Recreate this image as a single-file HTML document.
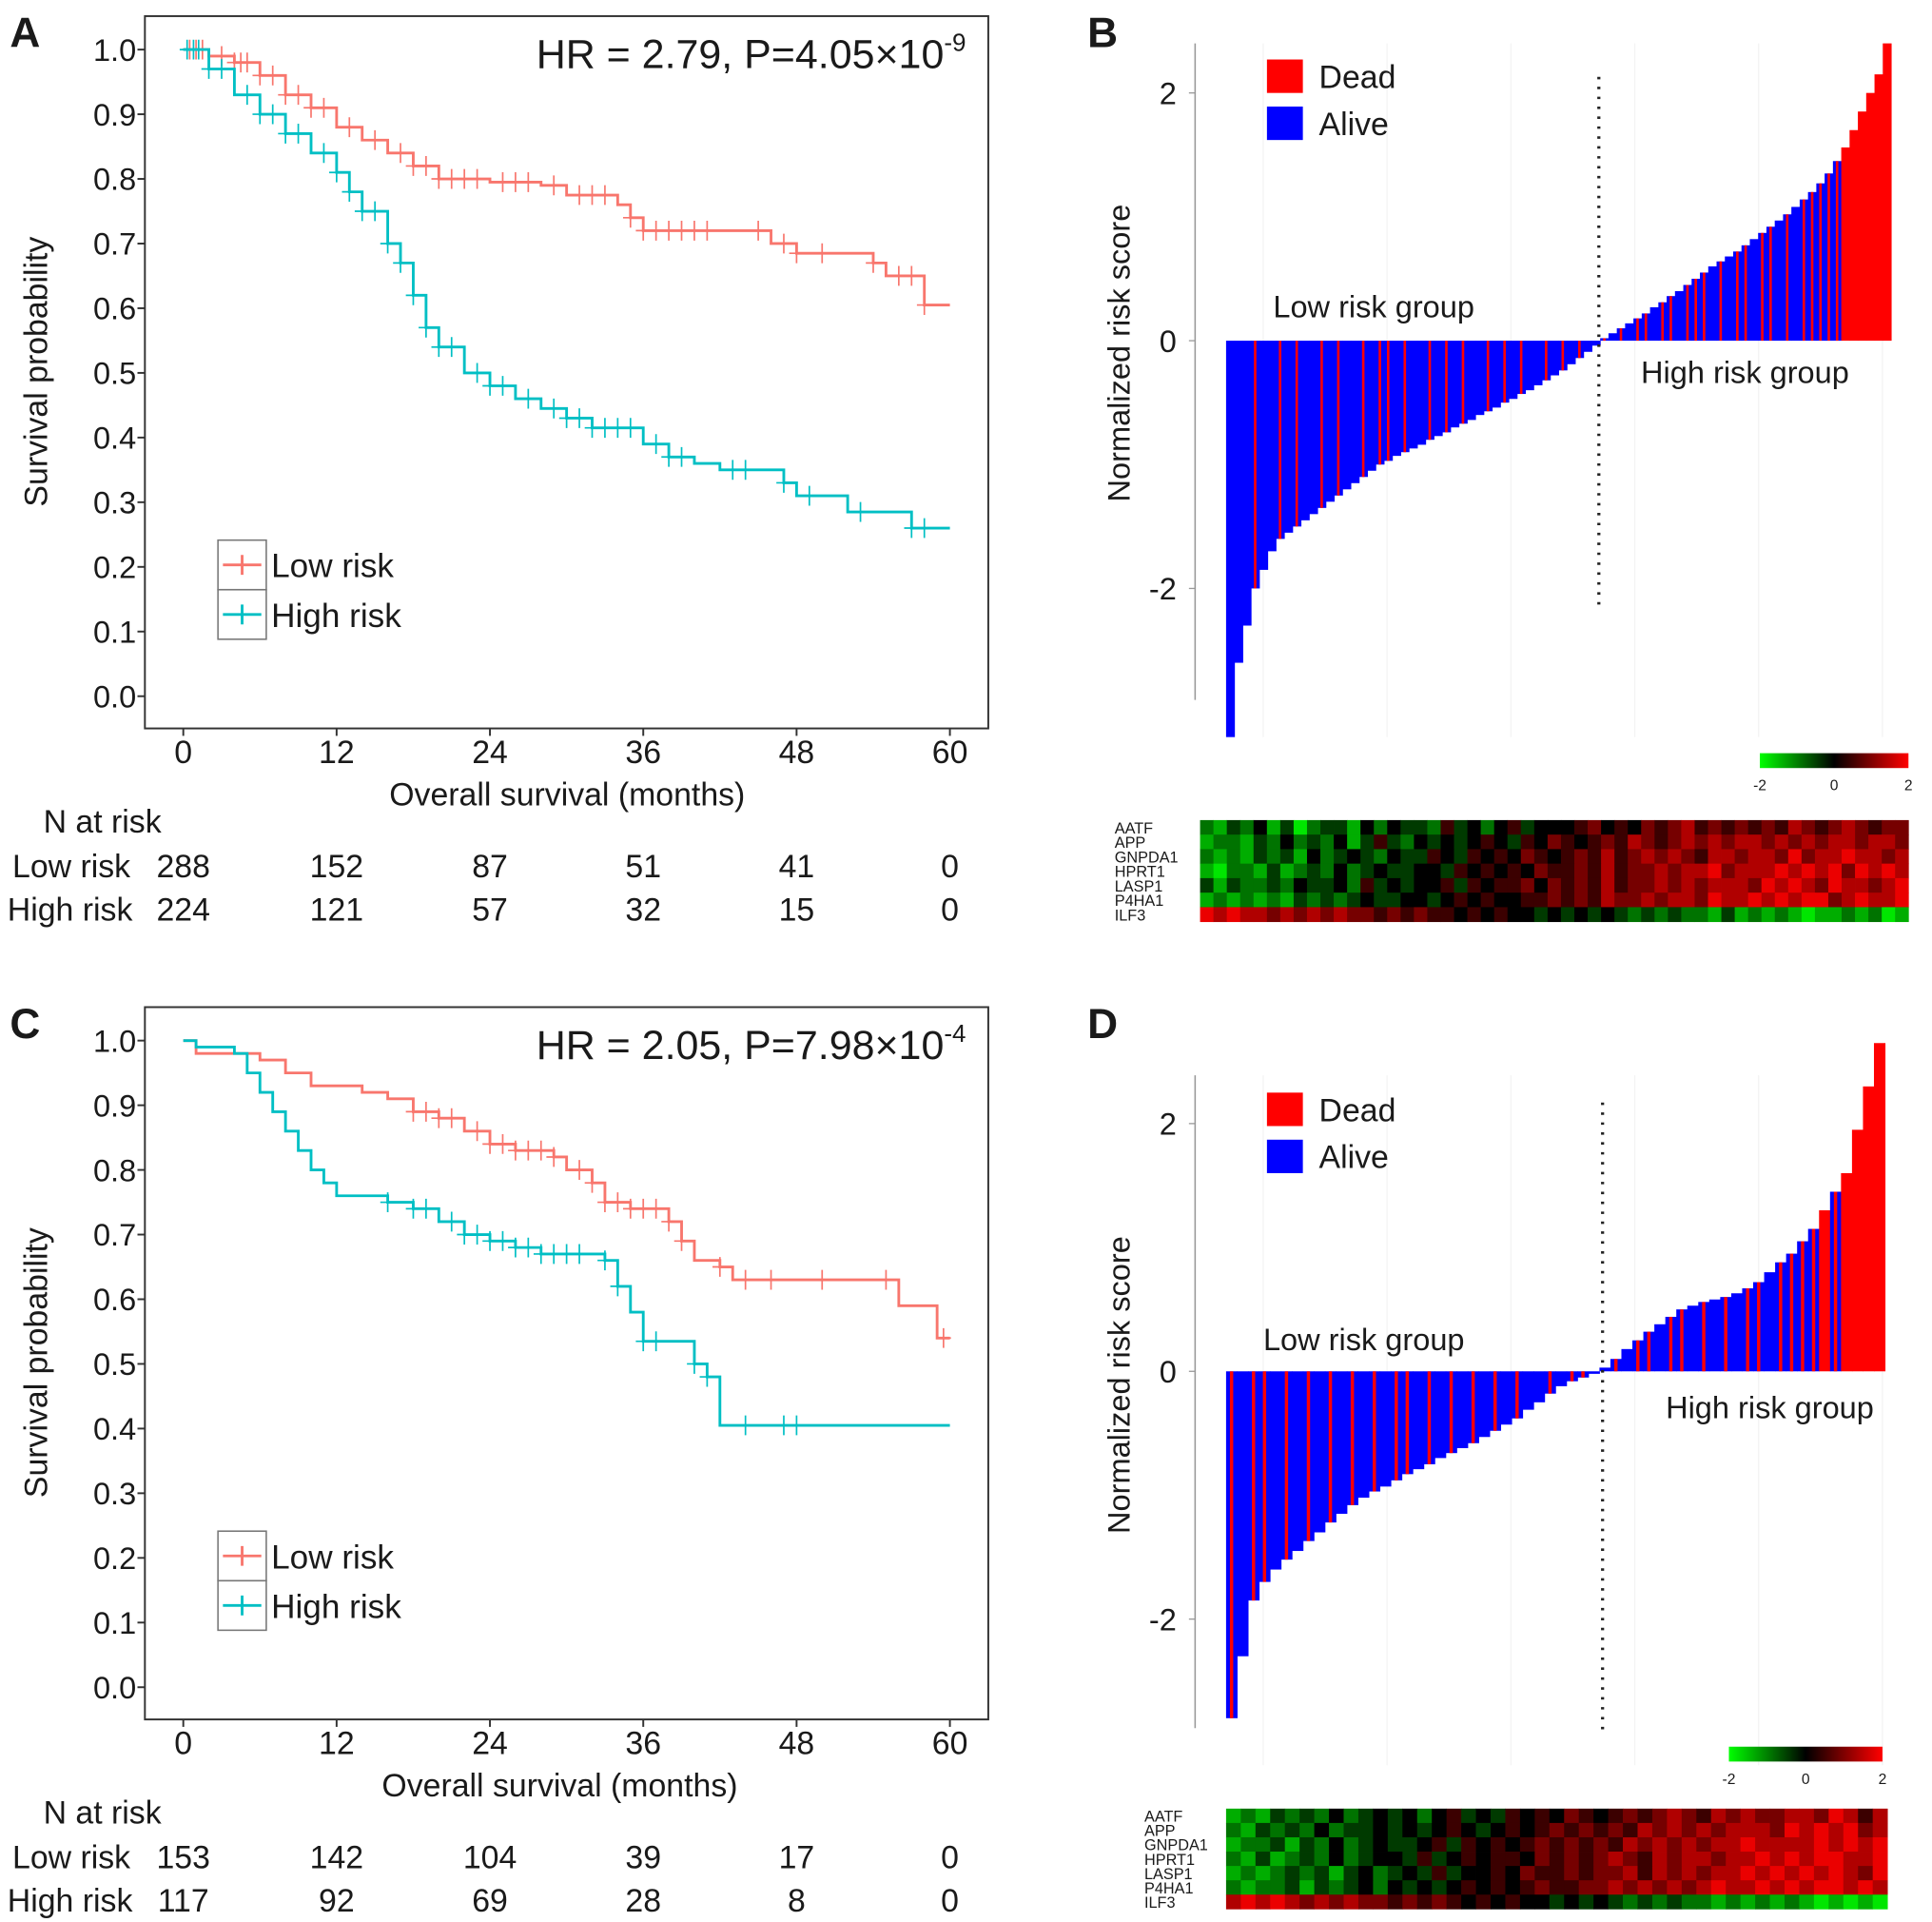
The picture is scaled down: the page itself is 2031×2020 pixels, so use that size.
<!DOCTYPE html>
<html><head><meta charset="utf-8"><style>
html,body{margin:0;padding:0;background:#fff}
svg{display:block}
text{font-family:"Liberation Sans",Arial,sans-serif;fill:#1a1a1a}
</style></head><body>
<svg id="fig" xmlns="http://www.w3.org/2000/svg" width="2031" height="2020" viewBox="0 0 1560 1551.5">
<rect width="1560" height="1552" fill="#fff"/>
<text x="8" y="38" font-size="34" font-weight="bold">A</text>
<text x="878" y="38" font-size="34" font-weight="bold">B</text>
<text x="8" y="838" font-size="34" font-weight="bold">C</text>
<text x="878" y="838" font-size="34" font-weight="bold">D</text>
</svg>
<script>
// ---------- KM data ----------
const kmTicksX = [0,12,24,36,48,60];
const kmTicksY = [0,0.1,0.2,0.3,0.4,0.5,0.6,0.7,0.8,0.9,1.0];
const aLowT = [0,2,4,6,8,10,12,14,16,18,20,24,28,30,34,35,36,46,48,54,55,58,60];
const aLowS = [1,0.99,0.98,0.96,0.93,0.91,0.88,0.86,0.84,0.82,0.80,0.795,0.79,0.775,0.76,0.74,0.72,0.70,0.685,0.67,0.65,0.605,0.605];
const aHighT = [0,2,4,6,8,10,12,13,14,16,17,18,19,20,22,24,26,28,30,32,36,38,40,42,47,48,52,57,60];
const aHighS = [1,0.97,0.93,0.90,0.87,0.84,0.81,0.78,0.75,0.70,0.67,0.62,0.57,0.54,0.50,0.48,0.46,0.445,0.43,0.415,0.39,0.37,0.36,0.35,0.33,0.31,0.285,0.26,0.26];
const aLowCens = [0.5,1,1.5,3,4,4.5,5,6,7,8,9,10,11,13,15,17,18,19,20,21,22,23,25,26,27,29,31,32,33,35,36,37,38,39,40,41,45,47,48,50,54,56,57,58];
const aHighCens = [0.3,0.8,1.2,2,3,5,6,7,8,9,11,12,13,14,15,16,17,18,19,20,21,23,24,25,27,29,30,31,32,33,34,35,37,38,39,43,44,47,49,53,57,58];
const cLowT = [0,1,6,8,10,14,16,18,20,22,24,26,29,30,32,33,35,38,39,40,42,43,56,59,60];
const cLowS = [1,0.98,0.97,0.95,0.93,0.92,0.91,0.89,0.88,0.86,0.84,0.83,0.82,0.80,0.78,0.75,0.74,0.72,0.69,0.66,0.65,0.63,0.59,0.54,0.54];
const cHighT = [0,1,4,5,6,7,8,9,10,11,12,16,18,20,22,24,26,28,33,34,35,36,40,41,42,60];
const cHighS = [1,0.99,0.98,0.95,0.92,0.89,0.86,0.83,0.80,0.78,0.76,0.75,0.74,0.72,0.70,0.69,0.68,0.67,0.66,0.62,0.58,0.535,0.50,0.48,0.405,0.405];
const cLowCens = [18,19,20,21,23,24,25,26,27,28,29,31,32,33,34,35,36,37,38,39,42,44,46,50,55,59.5];
const cHighCens = [16,18,19,21,22,23,24,25,26,27,28,29,30,31,33,34,36,37,40,41,44,47,48];
const aRiskLow = ["288","152","87","51","41","0"];
const aRiskHigh = ["224","121","57","32","15","0"];
const cRiskLow = ["153","142","104","39","17","0"];
const cRiskHigh = ["117","92","69","28","8","0"];

// ---------- Waterfall data ----------
// status: 0 = alive, 1 = group containing a death (thin red line), 2 = dead (solid red)
const bScores = [-3.2,-2.6,-2.3,-2.0,-1.85,-1.7,-1.6,-1.55,-1.5,-1.45,-1.4,-1.35,-1.3,-1.25,-1.2,-1.15,-1.1,-1.05,-1.0,-0.97,-0.93,-0.9,-0.87,-0.84,-0.8,-0.77,-0.74,-0.7,-0.67,-0.64,-0.6,-0.57,-0.54,-0.5,-0.47,-0.43,-0.4,-0.36,-0.32,-0.28,-0.24,-0.19,-0.14,-0.09,-0.04,0.02,0.06,0.1,0.14,0.18,0.22,0.27,0.31,0.36,0.4,0.45,0.5,0.55,0.6,0.64,0.68,0.72,0.77,0.82,0.87,0.92,0.97,1.02,1.08,1.14,1.2,1.27,1.35,1.45,1.56,1.7,1.85,2.0,2.15,2.4];
const bStatus = "00010010100101001011010010101001010100101010010101101101110101101101011111222222222";
const dScores = [-2.8,-2.3,-1.85,-1.7,-1.6,-1.52,-1.45,-1.37,-1.3,-1.22,-1.15,-1.08,-1.02,-0.97,-0.93,-0.88,-0.83,-0.79,-0.75,-0.7,-0.66,-0.62,-0.58,-0.53,-0.48,-0.43,-0.38,-0.31,-0.25,-0.18,-0.12,-0.08,-0.05,-0.02,0.03,0.1,0.18,0.25,0.32,0.38,0.44,0.5,0.53,0.56,0.58,0.6,0.63,0.67,0.72,0.8,0.88,0.95,1.05,1.15,1.3,1.45,1.6,1.95,2.3,2.65];
const dStatus = "101101010101010110101010101001011001011011010101101111212222";
const genes = ["AATF","APP","GNPDA1","HPRT1","LASP1","P4HA1","ILF3"];
const bHeat = [
"21324130233142433253424534445645465675656565765676566",
"12213242324135324343454354654565765676767767676776776",
"21213231423432433543545465456575676765776776867787767",
"10221312324234334435454546556575667677867778787868787",
"31322324334253434453545564656575667676777687876877678",
"12121213232343344345454455656576676776877878788678778",
"87877676767665656554545443434343232322131212101121201"];
const dHeat = [
"121323242343424534354546545656765767667768757",
"213232423343434543454565656576767677768787867",
"122313242343345354545656565767676778777787878",
"213123242344353454554656567657677677878788778",
"121232313423435344546556566757676778787878768",
"212231323424343454545655667676767877878788787",
"787876767665656545454434343232322121212101010"];

const svg = document.getElementById('fig');
const NS = 'http://www.w3.org/2000/svg';
function el(tag, attrs, parent){const e=document.createElementNS(NS,tag);for(const k in attrs)e.setAttribute(k,attrs[k]);(parent||svg).appendChild(e);return e;}
function txt(x,y,s,size,anchor,parent){const t=el('text',{x:x,y:y,'font-size':size,'text-anchor':anchor||'start'},parent);t.textContent=s;return t;}

function km(cfg){
  const g=el('g',{});
  
  
  const xs=t=>cfg.x0+(cfg.x60-cfg.x0)*t/60;
  const ys=s=>cfg.y0+(cfg.y1-cfg.y0)*s;
  const box=el('rect',{x:117,y:cfg.top,width:681,height:cfg.bot-cfg.top,fill:'none',stroke:'#333','stroke-width':1.5},g);
  
  
  kmTicksY.forEach(v=>{
    el('line',{x1:111,x2:117,y1:ys(v),y2:ys(v),stroke:'#333','stroke-width':1.5},g);
    const t=txt(110,ys(v)+9,v.toFixed(1),25,'end',g);
    
    
  });
  kmTicksX.forEach(v=>{
    el('line',{x1:xs(v),x2:xs(v),y1:cfg.bot,y2:cfg.bot+6,stroke:'#333','stroke-width':1.5},g);
    const t=txt(xs(v),cfg.bot+28,String(v),26,'middle',g);
    
    
  });
  const yt=txt(0,0,'Survival probability',26,'middle',g);
  yt.setAttribute('transform','translate(38,'+(cfg.top+287)+') rotate(-90)');
  
  
  const xt=txt(cfg.xTitle,cfg.bot+62,'Overall survival (months)',26,'middle',g);
  
  
  const hr=el('text',{x:780,y:cfg.top+42,'font-size':33,'text-anchor':'end'},g);
  
  
  hr.appendChild(document.createTextNode(cfg.hr));
  const sup=el('tspan',{'font-size':20,dy:-14},hr);sup.textContent=cfg.exp;
  function curve(T,S,C,color,name){
    let d='M'+xs(T[0])+','+ys(S[0]);
    for(let i=1;i<T.length;i++){d+=' H'+xs(T[i])+' V'+ys(S[i]);}
    const p=el('path',{d:d,fill:'none',stroke:color,'stroke-width':2.2},g);
    
    
    C.forEach(c=>{
      let s=S[0];for(let i=0;i<T.length;i++){if(T[i]<=c)s=S[i];}
      const m=el('path',{d:'M'+(xs(c)-6)+','+ys(s)+' h12 M'+xs(c)+','+(ys(s)-8)+' v16',stroke:color,'stroke-width':1.3,fill:'none'},g);
      
      
    });
  }
  curve(cfg.lowT,cfg.lowS,cfg.lowC,'#F8766D','low-risk-curve');
  curve(cfg.highT,cfg.highS,cfg.highC,'#00BFC4','high-risk-curve');
  const lg=el('g',{},g);
  
  
  const ly=cfg.top+423;
  [['Low risk','#F8766D'],['High risk','#00BFC4']].forEach((e,i)=>{
    const y=ly+i*40;
    el('rect',{x:176,y:y,width:39,height:40,fill:'none',stroke:'#777','stroke-width':1.2},lg);
    el('path',{d:'M180,'+(y+20)+' h31 M195.5,'+(y+12)+' v16',stroke:e[1],'stroke-width':2.2},lg);
    const t=txt(219,y+30,e[0],27,'start',lg);
    
    
  });
  const rt=el('g',{},g);
  
  
  txt(35,cfg.bot+84,'N at risk',26,'start',rt);
  txt(10,cfg.bot+120,'Low risk',26,'start',rt);
  txt(6,cfg.bot+155,'High risk',26,'start',rt);
  cfg.riskLow.forEach((v,i)=>txt(xs(kmTicksX[i]),cfg.bot+120,v,26,'middle',rt));
  cfg.riskHigh.forEach((v,i)=>txt(xs(kmTicksX[i]),cfg.bot+155,v,26,'middle',rt));
}
km({name:'km-plot-a',top:13,bot:588,x0:148,x60:767,y1:40,y0:562,xTitle:458,hr:'HR = 2.79, P=4.05×10',exp:'-9',
  lowT:aLowT,lowS:aLowS,lowC:aLowCens,highT:aHighT,highS:aHighS,highC:aHighCens,riskLow:aRiskLow,riskHigh:aRiskHigh});
km({name:'km-plot-c',top:813,bot:1388,x0:148,x60:767,y1:840,y0:1362,xTitle:452,hr:'HR = 2.05, P=7.98×10',exp:'-4',
  lowT:cLowT,lowS:cLowS,lowC:cLowCens,highT:cHighT,highS:cHighS,highC:cHighCens,riskLow:cRiskLow,riskHigh:cRiskHigh});

function heatColor(v){
  const z=(v-4)/4;
  if(z<0){return 'rgb(0,'+Math.round(-z*230)+',0)';}
  return 'rgb('+Math.round(z*235)+',0,0)';
}
function waterfall(cfg){
  const g=el('g',{});
  
  
  const ys=v=>cfg.zeroY-100*v;
  for(let k=0;k<6;k++){const gx=cfg.bx0+30+k*100;el('line',{x1:gx,x2:gx,y1:cfg.axTop,y2:cfg.axBot+30,stroke:'#f3f3f3','stroke-width':1},g);}
  const ax=el('line',{x1:965,x2:965,y1:cfg.axTop,y2:cfg.axBot,stroke:'#999','stroke-width':1.2},g);
  
  
  [2,0,-2].forEach(v=>{
    el('line',{x1:960,x2:965,y1:ys(v),y2:ys(v),stroke:'#999'},g);
    const t=txt(950,ys(v)+9,String(v),25,'end',g);
    
    
  });
  const yt=txt(0,0,'Normalized risk score',25,'middle',g);
  yt.setAttribute('transform','translate(912,'+cfg.titleY+') rotate(-90)');
  
  
  const n=cfg.scores.length, w=(cfg.bx1-cfg.bx0)/n;
  cfg.scores.forEach((v,i)=>{
    const y=Math.min(ys(v),ys(0)), h=Math.abs(ys(v)-ys(0));
    const st=cfg.status[i];
    const r=el('rect',{x:cfg.bx0+i*w,y:y,width:w+0.4,height:h,fill:st==='2'?'#ff0000':'#0000ff'},g);
    
    
    if(st==='1'){
      const s=el('rect',{x:cfg.bx0+i*w+w*0.35,y:y,width:Math.max(1.6,w*0.3),height:h,fill:'#ff0000'},g);
      
      
    }
  });
  const dl=el('line',{x1:cfg.divX,x2:cfg.divX,y1:cfg.divTop,y2:cfg.divBot,stroke:'#222','stroke-width':2.5,'stroke-dasharray':'2 6'},g);
  
  
  const lg=el('g',{},g);
  
  
  [['Dead','#ff0000'],['Alive','#0000ff']].forEach((e,i)=>{
    const y=cfg.legY+i*38;
    el('rect',{x:1023,y:y,width:29,height:27,fill:e[1]},lg);
    const t=txt(1065,y+23,e[0],26,'start',lg);
    
    
  });
  const lo=txt(cfg.lowX,cfg.lowY,'Low risk group',25,'start',g);
  
  
  const hi=txt(cfg.highX,cfg.highY,'High risk group',25,'start',g);
  
  
  const gid='cb'+cfg.name;
  const defs=el('defs',{},g);
  const lgd=el('linearGradient',{id:gid,x1:0,x2:1,y1:0,y2:0},defs);
  el('stop',{offset:0,'stop-color':'#00ff00'},lgd);el('stop',{offset:0.5,'stop-color':'#000'},lgd);el('stop',{offset:1,'stop-color':'#ff0000'},lgd);
  const cb=el('rect',{x:cfg.cbX,y:cfg.cbY,width:cfg.cbW,height:12,fill:'url(#'+gid+')'},g);
  
  
  [['-2',0],['0',0.5],['2',1]].forEach(e=>{txt(cfg.cbX+cfg.cbW*e[1],cfg.cbY+30,e[0],12,'middle',g);});
  const hm=el('g',{},g);
  
  
  const rh=(cfg.hy1-cfg.hy0)/genes.length;
  cfg.heat.forEach((row,r)=>{
    const cw=(cfg.hx1-cfg.hx0)/row.length;
    for(let c=0;c<row.length;c++){
      el('rect',{x:cfg.hx0+c*cw,y:cfg.hy0+r*rh,width:cw+0.3,height:rh+0.3,fill:heatColor(+row[c])},hm);
    }
    const t=txt(cfg.gx,cfg.hy0+r*rh+rh-1,genes[r],12.5,'start',hm);
    
    
  });
}
waterfall({name:'risk-plot-b',axTop:35,axBot:565,zeroY:275,titleY:285,bx0:990,bx1:1527,scores:bScores,status:bStatus,
  divX:1291,divTop:62,divBot:490,legY:48,lowX:1028,lowY:256,highX:1325,highY:309,cbX:1421,cbY:608,cbW:120,
  heat:bHeat,hx0:969,hx1:1541,hy0:662,hy1:744,gx:900});
waterfall({name:'risk-plot-d',axTop:868,axBot:1395,zeroY:1107,titleY:1118,bx0:990,bx1:1522,scores:dScores,status:dStatus,
  divX:1294,divTop:890,divBot:1398,legY:882,lowX:1020,lowY:1090,highX:1345,highY:1145,cbX:1396,cbY:1410,cbW:124,
  heat:dHeat,hx0:990,hx1:1524,hy0:1460,hy1:1541,gx:924});
</script>
</body></html>
